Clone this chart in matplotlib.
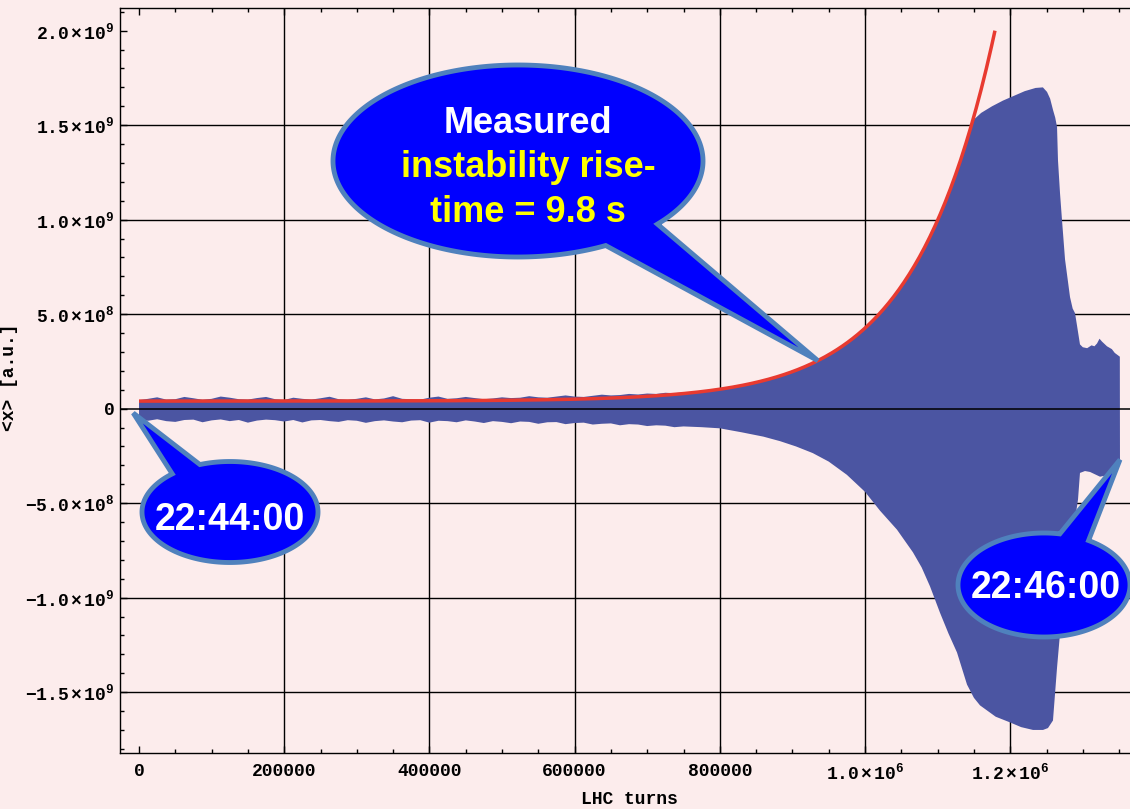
import numpy as np
import matplotlib.pyplot as plt
from matplotlib.patches import Polygon
from matplotlib.ticker import MultipleLocator, FuncFormatter

plt.rcParams['font.family'] = ['Liberation Mono', 'DejaVu Sans Mono']
plt.rcParams['font.weight'] = 'bold'
plt.rcParams['mathtext.fontset'] = 'custom'
plt.rcParams['mathtext.rm'] = 'Liberation Mono:bold'
plt.rcParams['mathtext.it'] = 'Liberation Mono:bold'
plt.rcParams['mathtext.bf'] = 'Liberation Mono:bold'

unit = 1e8

# quiet part of the signal: envelope sampled every 12500 turns from 0 to 750000
quiet_turns = np.arange(0, 750001, 12500)
quiet_upper = [0.45, 0.52, 0.60, 0.48, 0.50, 0.62, 0.55, 0.47, 0.52, 0.64,
               0.58, 0.50, 0.48, 0.56, 0.62, 0.50, 0.46, 0.58, 0.52, 0.48,
               0.55, 0.63, 0.50, 0.47, 0.52, 0.60, 0.49, 0.54, 0.66, 0.52,
               0.50, 0.48, 0.58, 0.64, 0.52, 0.55, 0.62, 0.56, 0.50, 0.54,
               0.60, 0.56, 0.58, 0.66, 0.60, 0.58, 0.64, 0.70, 0.64, 0.62,
               0.68, 0.74, 0.70, 0.72, 0.78, 0.75, 0.80, 0.78, 0.84, 0.82,
               0.86]
quiet_lower = [-0.60, -0.64, -0.56, -0.66, -0.70, -0.60, -0.58, -0.72, -0.62, -0.57,
               -0.66, -0.60, -0.74, -0.63, -0.58, -0.61, -0.68, -0.60, -0.73, -0.62,
               -0.60, -0.66, -0.70, -0.61, -0.64, -0.75, -0.66, -0.62, -0.68, -0.72,
               -0.63, -0.61, -0.74, -0.64, -0.66, -0.72, -0.62, -0.68, -0.76, -0.66,
               -0.70, -0.77, -0.68, -0.70, -0.80, -0.72, -0.71, -0.82, -0.76, -0.74,
               -0.84, -0.80, -0.78, -0.88, -0.82, -0.84, -0.92, -0.88, -0.90, -0.98,
               -0.94]

# growth, saturation and beam dump
rise_upper_turns = [775000, 800000, 825000, 850000, 875000, 900000, 925000, 950000, 975000,
                    1000000, 1025000, 1050000, 1075000, 1100000, 1112500, 1125000, 1137500,
                    1150000, 1160000, 1175000, 1190000, 1205000, 1220000, 1235000, 1245000,
                    1250700, 1255000, 1259000, 1262000, 1264500, 1265800, 1268600, 1271300,
                    1275500, 1282400, 1286000, 1289300, 1292000, 1296100, 1300000, 1306000,
                    1312000, 1316000, 1319600, 1323000, 1326400, 1333300, 1340000, 1344000,
                    1351000]
rise_upper = [0.92, 1.02, 1.17, 1.38, 1.63, 1.94, 2.32, 2.82, 3.45,
              4.22, 5.2, 6.45, 7.95, 9.9, 11.0, 12.3, 13.8,
              15.3, 15.65, 16.0, 16.3, 16.55, 16.8, 16.97, 17.0,
              16.76, 16.4, 15.8, 15.4, 14.9, 13.15, 11.4, 10.0,
              7.9, 5.9, 5.3, 5.05, 4.4, 3.4, 3.25, 3.2,
              3.35, 3.3, 3.45, 3.7, 3.55, 3.3, 3.15, 2.95,
              2.75]
rise_lower_turns = [775000, 800000, 830000, 860000, 883000, 905000, 928000, 950000, 975000,
                    1000000, 1020700, 1044000, 1066000, 1078000, 1089500, 1103300, 1115000,
                    1126700, 1140500, 1150000, 1158400, 1180000, 1199700, 1215000, 1231400,
                    1245200, 1252000, 1258900, 1261500, 1264500, 1268600, 1273000, 1278200,
                    1286500, 1293400, 1296100, 1303000, 1310000, 1323700, 1330000, 1337500,
                    1343000, 1348500, 1351200]
rise_lower = [-0.98, -1.04, -1.25, -1.48, -1.72, -2.0, -2.35, -2.8, -3.5,
              -4.4, -5.4, -6.4, -7.6, -8.4, -9.4, -10.8, -11.9,
              -12.9, -14.6, -15.3, -15.7, -16.3, -16.6, -16.85, -17.0,
              -17.0, -16.9, -16.5, -15.2, -13.7, -11.9, -10.0, -8.4,
              -6.6, -4.8, -3.4, -3.3, -3.35, -3.6, -3.55, -3.5,
              -3.2, -2.9, -2.7]

# exponential fit of the growth
rise_time_s = 9.8
f_rev = 11245          # LHC revolution frequency [turns/s]
fit_offset = 4e7
fit_end_turn = 1179000
fit_end_value = 2.0e9
tip_turn = 935000

grid_turns = [200000, 400000, 600000, 800000, 1000000, 1200000]
grid_vals = [-1.5e9, -1.0e9, -5e8, 5e8, 1.0e9, 1.5e9]

bg = '#fcecec'
env_color = '#4b55a2'
fit_color = '#e83a30'
bubble_face = '#0000ff'
bubble_edge = '#4f81bd'

W, H = 1130, 809
fig = plt.figure(figsize=(W / 100, H / 100), dpi=100, facecolor=bg)
ax = fig.add_axes([120 / W, 1 - 753 / H, (W - 120) / W, (753 - 8) / H], facecolor=bg)

ax.set_xlim(-26200, 1365000)
ax.set_ylim(-1.822e9, 2.12e9)

for v in grid_vals:
    ax.axhline(v, color='black', lw=1.0, zorder=1)
for t in grid_turns:
    ax.axvline(t, color='black', lw=1.0, zorder=1)

upper_turns = np.r_[quiet_turns, rise_upper_turns]
upper_vals = np.r_[quiet_upper, rise_upper] * unit
lower_turns = np.r_[quiet_turns, rise_lower_turns]
lower_vals = np.r_[quiet_lower, rise_lower] * unit

ax.fill(np.r_[upper_turns, lower_turns[::-1]], np.r_[upper_vals, lower_vals[::-1]],
        color=env_color, lw=0, zorder=2)
ax.axhline(0, color='black', lw=1.1, zorder=3)

tau = rise_time_s * f_rev


def fit(t):
    return fit_offset + (fit_end_value - fit_offset) * np.exp((t - fit_end_turn) / tau)


t_fit = np.linspace(0, fit_end_turn, 500)
ax.plot(t_fit, fit(t_fit), color=fit_color, lw=2.5, zorder=4, solid_capstyle='butt')

ax.spines['right'].set_visible(False)
for s in ['left', 'top', 'bottom']:
    ax.spines[s].set_linewidth(1.0)
ax.xaxis.set_major_locator(MultipleLocator(200000))
ax.xaxis.set_minor_locator(MultipleLocator(50000))
ax.yaxis.set_major_locator(MultipleLocator(5e8))
ax.yaxis.set_minor_locator(MultipleLocator(1e8))
ax.tick_params(which='both', direction='in', top=True, right=False, width=1.0)
ax.tick_params(which='major', length=5)
ax.tick_params(which='minor', length=3)
ax.tick_params(axis='x', pad=7, labelsize=13)
ax.tick_params(axis='y', pad=4, labelsize=13)


def sci(v):
    e = int(np.floor(np.log10(abs(v))))
    m = v / 10 ** e
    return r'$%.1f\times10^{%d}$' % (m, e)


ax.yaxis.set_major_formatter(FuncFormatter(lambda v, p: '0' if v == 0 else sci(v)))
ax.xaxis.set_major_formatter(FuncFormatter(lambda v, p: '%d' % v if abs(v) < 1e6 else sci(v)))

fig.text(629 / W, 1 - 800 / H, 'LHC turns', ha='center', va='center', fontsize=13)
fig.text(10 / W, 1 - 377 / H, '<x> [a.u.]', ha='center', va='center', rotation=90, fontsize=13)


def to_px(t, v):
    x, y = ax.transData.transform((t, v))
    return x, H - y


def bubble(cx, cy, a, b, th_from, th_to, tip):
    th = np.radians(np.linspace(th_from, th_to, 300))
    pts = [((cx + a * np.cos(q)) / W, 1 - (cy + b * np.sin(q)) / H) for q in th]
    pts.append((tip[0] / W, 1 - tip[1] / H))
    fig.add_artist(Polygon(pts, closed=True, facecolor=bubble_face, edgecolor=bubble_edge,
                           lw=3.5, transform=fig.transFigure, zorder=5))


callout_font = dict(family='Liberation Sans', weight='bold', ha='center', va='baseline', zorder=6)

bubble(518, 161, 185, 96, 61.7, 401.1, to_px(tip_turn, fit(tip_turn)))
fig.text(528 / W, 1 - 132.7 / H, 'Measured', color='white', fontsize=26, **callout_font)
fig.text(528 / W, 1 - 176.7 / H, 'instability rise-', color='yellow', fontsize=26, **callout_font)
fig.text(528 / W, 1 - 221.7 / H, 'time = %.1f s' % rise_time_s, color='yellow', fontsize=26,
         **callout_font)

bubble(230, 512, 88, 50.5, 250, 589, to_px(upper_turns[0] - 8000, -2.3e7))
fig.text(230 / W, 1 - 530 / H, '22:44:00', color='white', fontsize=27, **callout_font)

bubble(1044, 585, 86, 52, 301.2, 640.6, to_px(lower_turns[-1], lower_vals[-1]))
fig.text(1046 / W, 1 - 598 / H, '22:46:00', color='white', fontsize=27, **callout_font)

fig.savefig('out.png', dpi=100, facecolor=bg)
